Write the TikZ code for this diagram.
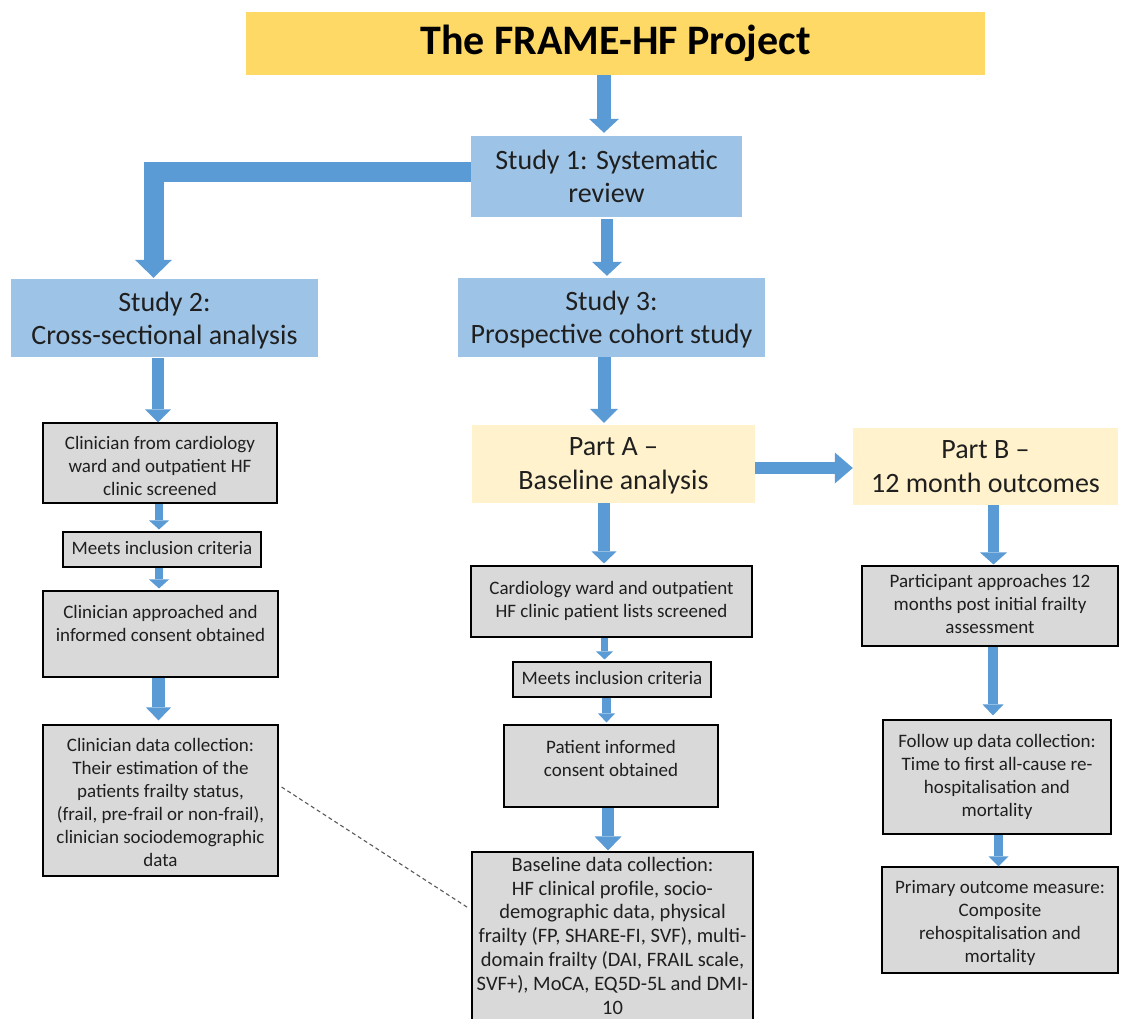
\documentclass[tikz,border=0pt]{standalone}
\usepackage{fontspec}
\setmainfont{Carlito}
\usetikzlibrary{arrows.meta,calc}

\definecolor{titlegold}{HTML}{FFD966}
\definecolor{studyblue}{HTML}{9DC3E6}
\definecolor{partcream}{HTML}{FFF2CC}
\definecolor{stepgray}{HTML}{D9D9D9}
\definecolor{flowblue}{HTML}{5B9BD5}
\definecolor{inkgray}{HTML}{595959}

% centred block of lines; \mlift moves the lines up or down inside their box
\newcommand\mlines[1]{\begin{tabular}{@{}c@{}}#1\end{tabular}}
\newcommand\mlift[2]{\raisebox{#1}[\height][\depth]{\mlines{#2}}}

\begin{document}
\begin{tikzpicture}[x=1pt,y=-1pt,
  titlebox/.style={fill=titlegold, inner sep=0pt, text=black,
    font=\fontsize{42}{50}\selectfont\bfseries},
  studybox/.style={fill=studyblue, inner sep=0pt, text=black!88,
    font=\fontsize{28}{33}\selectfont},
  partbox/.style={fill=partcream, inner sep=0pt, text=black!88,
    font=\fontsize{28}{34}\selectfont},
  stepbox/.style={fill=stepgray, draw=black, line width=1.1pt, inner sep=0pt,
    text=black!88, font=\fontsize{19}{23}\selectfont},
  flow/.style n args={3}{draw=flowblue, line width=#1, line join=miter,
    -{Triangle[width=#2,length=#3,line width=0pt]}},
  dashline/.style={draw=inkgray, line width=1.1pt, dash pattern=on 4pt off 3pt}
]
\fill[white] (0,0) rectangle (1121,1019);
\useasboundingbox (0,0) rectangle (1121,1019);

% heading and studies
\node[titlebox, minimum width=739pt, minimum height=63pt] (title) at (615.5,43.5)
  {The FRAME-HF Project};
\node[studybox, minimum width=271pt, minimum height=81pt] (s1) at (606.5,176.5)
  {\mlift{-3pt}{Study 1: Systematic\\review}};
\node[studybox, minimum width=307pt, minimum height=78pt] (s2) at (164.5,318)
  {\mlift{-3pt}{Study 2:\\Cross-sectional analysis}};
\node[studybox, minimum width=307pt, minimum height=79pt] (s3) at (611.5,317.5)
  {\mlift{-3pt}{Study 3:\\Prospective cohort study}};

% study 2 steps
\node[stepbox, minimum width=234pt, minimum height=80pt] (c1) at (160,463)
  {\mlift{-5pt}{Clinician from cardiology\\ward and outpatient HF\\clinic screened}};
\node[stepbox, minimum width=198pt, minimum height=35pt] (c2) at (162,549.5)
  {\mlines{Meets inclusion criteria}};
\node[stepbox, minimum width=235pt, minimum height=86pt] (c3) at (160.5,634)
  {\mlift{9pt}{Clinician approached and\\informed consent obtained}};
\node[stepbox, minimum width=235pt, minimum height=151pt] (c4) at (160.5,800.5)
  {\mlift{-4pt}{Clinician data collection:\\Their estimation of the\\patients frailty status,\\(frail, pre-frail or non-frail),\\clinician sociodemographic\\data}};

% study 3, part A
\node[partbox, minimum width=283pt, minimum height=78pt] (pa) at (613.5,464)
  {\mlift{-2pt}{Part A –\\Baseline analysis}};
\node[stepbox, minimum width=281pt, minimum height=71pt] (m1) at (611.5,601.5)
  {\mlines{Cardiology ward and outpatient\\HF clinic patient lists screened}};
\node[stepbox, minimum width=198pt, minimum height=35pt] (m2) at (612,679.5)
  {\mlines{Meets inclusion criteria}};
\node[stepbox, minimum width=214pt, minimum height=82pt] (m3) at (611,766)
  {\mlift{6pt}{Patient informed\\consent obtained}};
\node[stepbox, minimum width=281pt, minimum height=176pt,
      font=\fontsize{20.5}{23.8}\selectfont] (m4) at (612.5,940)
  {\mlift{2pt}{Baseline data collection:\\HF clinical profile, socio-\\demographic data, physical\\frailty (FP, SHARE-FI, SVF), multi-\\domain frailty (DAI, FRAIL scale,\\SVF+), MoCA, EQ5D-5L and DMI-\\10}};

% study 3, part B
\node[partbox, minimum width=265pt, minimum height=77pt] (pb) at (985.5,466.5)
  {\mlift{-2pt}{Part B –\\12 month outcomes}};
\node[stepbox, minimum width=256pt, minimum height=80pt] (r1) at (990,606)
  {\mlines{Participant approaches 12\\months post initial frailty\\assessment}};
\node[stepbox, minimum width=228pt, minimum height=114pt] (r2) at (997,777)
  {\mlines{Follow up data collection:\\Time to first all-cause re-\\hospitalisation and\\mortality}};
\node[stepbox, minimum width=236pt, minimum height=106pt] (r3) at (1000,920)
  {\mlift{-3pt}{Primary outcome measure:\\Composite\\rehospitalisation and\\mortality}};

% block arrows
\draw[flow={14pt}{30pt}{14pt}, shorten >=3pt]
  ([xshift=-2.5pt]s1.north |- title.south) -- ([xshift=-2.5pt]s1.north);
\draw[flow={20pt}{37pt}{18pt}, shorten >=1pt]
  ([yshift=4.5pt]s1.west) -| ([xshift=-11pt]s2.north);
\draw[flow={12pt}{30pt}{14pt}, shorten <=2pt, shorten >=2pt]
  ([xshift=-4.5pt]s3.north |- s1.south) -- ([xshift=-4.5pt]s3.north);
\draw[flow={13pt}{28pt}{14pt}, shorten >=2pt]
  ([xshift=-9.5pt]pa.north |- s3.south) -- ([xshift=-9.5pt]pa.north);

\draw[flow={12pt}{26pt}{13pt}, shorten <=1pt]
  ([xshift=-2pt]c1.north |- s2.south) -- ([xshift=-2pt]c1.north);
\draw[flow={8pt}{20pt}{9pt}, shorten >=2pt]
  ([xshift=-3pt]c2.north |- c1.south) -- ([xshift=-3pt]c2.north);
\draw[flow={8pt}{20pt}{9pt}, shorten >=2pt]
  ([xshift=-1.5pt]c3.north |- c2.south) -- ([xshift=-1.5pt]c3.north);
\draw[flow={13pt}{25pt}{13pt}, shorten >=4pt]
  ([xshift=-2pt]c4.north |- c3.south) -- ([xshift=-2pt]c4.north);

\draw[flow={12pt}{25pt}{12pt}, shorten >=2pt]
  ([xshift=-7.5pt]m1.north |- pa.south) -- ([xshift=-7.5pt]m1.north);
\draw[flow={7pt}{17pt}{8pt}, shorten >=2pt]
  ([xshift=-7.5pt]m2.north |- m1.south) -- ([xshift=-7.5pt]m2.north);
\draw[flow={9pt}{17pt}{9pt}, shorten >=2pt]
  ([xshift=-4.5pt]m3.north |- m2.south) -- ([xshift=-4.5pt]m3.north);
\draw[flow={12pt}{27pt}{14pt}, shorten >=1pt]
  ([xshift=-4.5pt]m4.north |- m3.south) -- ([xshift=-4.5pt]m4.north);

\draw[flow={12pt}{31pt}{18pt}]
  ([yshift=-4pt]pa.east) -- ([yshift=-4pt]pa.east -| pb.west);

\draw[flow={11pt}{27pt}{12pt}, shorten >=1pt]
  ([xshift=3.5pt]r1.north |- pb.south) -- ([xshift=3.5pt]r1.north);
\draw[flow={10pt}{21pt}{11pt}, shorten >=4pt]
  ([xshift=-4pt]r2.north |- r1.south) -- ([xshift=-4pt]r2.north);
\draw[flow={9pt}{20pt}{10pt}]
  ([xshift=-1.5pt]r3.north |- r2.south) -- ([xshift=-1.5pt]r3.north);

% link between the two data collection steps
\draw[dashline] ($(c4.east)+(3,-13.5)$) -- ($(m4.west)+(-3,-32)$);
\end{tikzpicture}
\end{document}
